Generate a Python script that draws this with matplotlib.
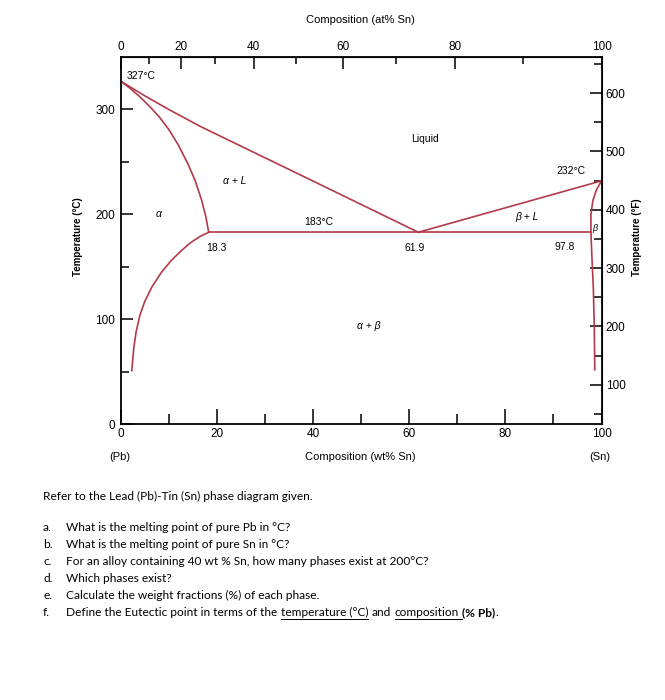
import numpy as np
import matplotlib.pyplot as plt
from matplotlib.lines import Line2D
from matplotlib.ticker import FixedLocator

# phase boundaries, composition in wt% Sn, temperature in deg C
liq_a_x = [0, 5, 10, 16.5, 27.3, 43.5, 61.9]
liq_a_t = [327, 313, 300, 284, 260, 224, 183]
liq_b_x = [61.9, 100]
liq_b_t = [183, 232]
sol_a_x = [0, 2, 4, 6, 8, 10, 12, 14, 15.5, 16.8, 17.7, 18.3]
sol_a_t = [327, 320, 312, 303, 293, 281, 266, 248, 232, 214, 198, 183]
solv_a_x = [18.3, 16.5, 14.5, 12.5, 10.5, 8.5, 6.5, 5, 4, 3.2, 2.7, 2.3]
solv_a_t = [183, 179, 173, 165, 156, 145, 131, 117, 104, 88, 72, 51]
sol_b_x = [100, 98.9, 98.2, 97.8, 97.8]
sol_b_t = [232, 223, 213, 200, 183]
solv_b_x = [97.8, 98.0, 98.3, 98.5, 98.6]
solv_b_t = [183, 160, 130, 93, 52]
eut_x = [18.3, 97.8]
eut_t = [183, 183]

x_major = [0, 20, 40, 60, 80, 100]
x_minor = [10, 30, 50, 70, 90]
at_major = [0, 20, 40, 60, 80, 100]
at_minor = [10, 30, 50, 70, 90]
c_major = [0, 100, 200, 300]
c_minor = [50, 150, 250]
f_major = [100, 200, 300, 400, 500, 600]
f_minor = [50, 150, 250, 350, 450, 550, 650]

W, H = 665, 700
red = "#b23a4a"
plt.rcParams['font.family'] = ['Liberation Sans', 'DejaVu Sans']

fig = plt.figure(figsize=(6.65, 7.0), dpi=100)
ax = fig.add_axes([120.7 / W, 1 - 424.3 / H, 480.8 / W, 367.3 / H])

for xs, ts in [(liq_a_x, liq_a_t), (liq_b_x, liq_b_t), (sol_a_x, sol_a_t),
               (solv_a_x, solv_a_t), (sol_b_x, sol_b_t), (solv_b_x, solv_b_t),
               (eut_x, eut_t)]:
    ax.plot(xs, ts, color=red, lw=1.2, solid_joinstyle='round')

ax.set_xlim(0, 100)
ax.set_ylim(0, 350)
ax.set_xticks(x_major)
ax.set_xticks(x_minor, minor=True)
ax.set_yticks(c_major)
ax.set_yticks(c_minor, minor=True)
ax.tick_params(axis='x', which='major', direction='in', length=11, width=1.1, labelsize=8.5, pad=3)
ax.tick_params(axis='x', which='minor', direction='in', length=7, width=1.1)
ax.tick_params(axis='y', which='major', direction='in', length=8.5, width=1.1, labelsize=8.5, pad=4)
ax.tick_params(axis='y', which='minor', direction='in', length=6, width=1.1)
for s in ax.spines.values():
    s.set_linewidth(1.3)


# top axis in atomic percent Sn
def wt_to_at(w):
    w = np.asarray(w, dtype=float)
    a = w / 118.71
    b = (100 - w) / 207.2
    return 100 * a / (a + b)


def at_to_wt(p):
    p = np.asarray(p, dtype=float)
    a = p * 118.71
    b = (100 - p) * 207.2
    return 100 * a / (a + b)


top = ax.secondary_xaxis('top', functions=(wt_to_at, at_to_wt))
top.set_xticks(at_major)
top.xaxis.set_minor_locator(FixedLocator(at_minor))
top.tick_params(which='major', direction='in', length=8.5, width=1.1, labelsize=8.5, pad=3)
top.tick_params(which='minor', direction='in', length=5, width=1.1)


# right axis in Fahrenheit
def c_to_f(c):
    return np.asarray(c, dtype=float) * 9 / 5 + 32


def f_to_c(f):
    return (np.asarray(f, dtype=float) - 32) * 5 / 9


right = ax.secondary_yaxis('right', functions=(c_to_f, f_to_c))
right.set_yticks(f_major)
right.yaxis.set_minor_locator(FixedLocator(f_minor))
right.tick_params(which='major', direction='in', length=8.5, width=1.1, labelsize=8.5, pad=3)
right.tick_params(which='minor', direction='in', length=6, width=1.1)

# region and point labels
fs = 7.5
ax.text(1.3, 332, "327°C", fontsize=fs, ha='left', va='center')
ax.text(93.6, 241, "232°C", fontsize=fs, ha='center', va='center')
ax.text(41.1, 193, "183°C", fontsize=fs, ha='center', va='center')
ax.text(20.0, 168, "18.3", fontsize=fs, ha='center', va='center')
ax.text(61.2, 168, "61.9", fontsize=fs, ha='center', va='center')
ax.text(92.4, 169, "97.8", fontsize=fs, ha='center', va='center')
ax.text(63.3, 272, "Liquid", fontsize=fs, ha='center', va='center')
ax.text(23.8, 232, "α + L", fontsize=fs, ha='center', va='center', style='italic')
ax.text(7.8, 200, "α", fontsize=fs, ha='center', va='center', style='italic')
ax.text(84.4, 198, "β + L", fontsize=fs, ha='center', va='center', style='italic')
ax.text(98.7, 187, "β", fontsize=6.5, ha='center', va='center', style='italic')
ax.text(51.5, 94, "α + β", fontsize=fs, ha='center', va='center', style='italic')

# axis titles
fig.text(360 / W, 1 - 20 / H, "Composition (at% Sn)", fontsize=8, ha='center', va='center')
fig.text(360 / W, 1 - 457 / H, "Composition (wt% Sn)", fontsize=8, ha='center', va='center')
fig.text(120 / W, 1 - 457 / H, "(Pb)", fontsize=8, ha='center', va='center')
fig.text(600 / W, 1 - 457 / H, "(Sn)", fontsize=8, ha='center', va='center')
fig.text(78 / W, 1 - 237 / H, "Temperature (°C)", fontsize=7, ha='center', va='center',
         rotation=90, weight='bold')
fig.text(637 / W, 1 - 237 / H, "Temperature (°F)", fontsize=7, ha='center', va='center',
         rotation=90, weight='bold')

# question text below the chart
qfont = ['Lato', 'DejaVu Sans']
qs = 8.6
renderer = fig.canvas.get_renderer()


def put_parts(x, y, parts):
    # parts: (text, weight, underline, gap after in px, underline the gap too)
    for s, wt, ul, gap, ulgap in parts:
        t = fig.text(x / W, 1 - y / H, s, fontsize=qs, family=qfont, weight=wt,
                     ha='left', va='baseline')
        bb = t.get_window_extent(renderer)
        if ul:
            yl = (H - y - 2.5) / H
            x1 = bb.x1 + (gap if ulgap else 0)
            fig.add_artist(Line2D([bb.x0 / W, x1 / W], [yl, yl],
                                  color='black', lw=0.7, transform=fig.transFigure))
        x = bb.x1 + gap


put_parts(43, 500, [("Refer to the Lead (Pb)-Tin (Sn) phase diagram given.", 'normal', False, 0, False)])

items = [
    ("a.", "What is the melting point of pure Pb in °C?"),
    ("b.", "What is the melting point of pure Sn in °C?"),
    ("c.", "For an alloy containing 40 wt % Sn, how many phases exist at 200°C?"),
    ("d.", "Which phases exist?"),
    ("e.", "Calculate the weight fractions (%) of each phase."),
]
ys = [531, 548.5, 565, 581.5, 599]
for (lab, txt), yy in zip(items, ys):
    put_parts(43, yy, [(lab, 'normal', False, 0, False)])
    put_parts(66, yy, [(txt, 'normal', False, 0, False)])

put_parts(43, 616.5, [("f.", 'normal', False, 0, False)])
put_parts(66, 616.5, [("Define the Eutectic point in terms of the", 'normal', False, 3.5, False),
                      ("temperature (°C)", 'normal', True, 3.5, False),
                      ("and", 'normal', False, 3.5, False),
                      ("composition", 'normal', True, 3.5, True),
                      ("(% Pb)", 'bold', False, 0, False),
                      (".", 'normal', False, 0, False)])

fig.savefig("out.png", dpi=100)
